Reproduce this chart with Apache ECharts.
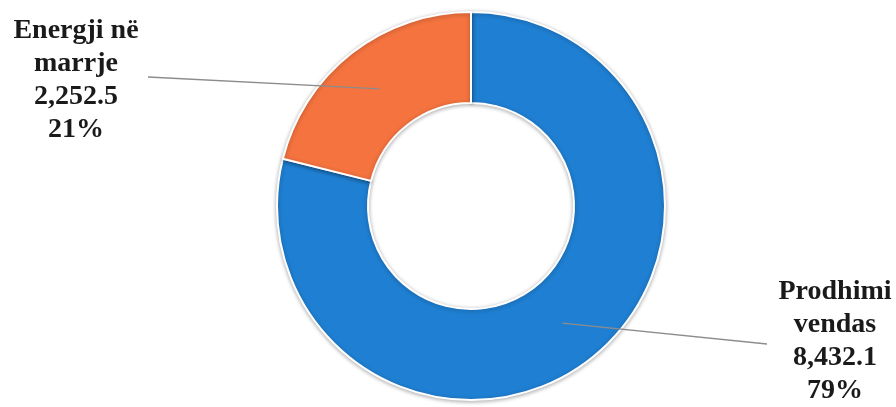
<!DOCTYPE html>
<html>
<head>
<meta charset="utf-8">
<script src="https://cdn.jsdelivr.net/npm/echarts@6/dist/echarts.min.js"></script>
<style>
  html, body { margin: 0; padding: 0; background: #fff; }
  #chart { width: 896px; height: 407px; }
</style>
</head>
<body>
<div id="chart"></div>
<script>
// data
const categories = ['Prodhimi\nvendas', 'Energji në\nmarrje']
const values = [8432.1, 2252.5]
const colors = ['#1f7fd2', '#f4733f']

// layout (pixels)
const center = [471, 206]
const radii = [103, 194]
const labelPos = [[835, 341], [76, 80]] // label block centres
const lineEnd = [[767, 344], [148, 77]] // where leader lines stop

const total = values.reduce((a, b) => a + b, 0)

const chart = echarts.init(document.getElementById('chart'))

function fmtValue (v) {
  return v.toLocaleString('en-US', { minimumFractionDigits: 1, maximumFractionDigits: 1 })
}

// mid-angle of each slice, starting at 12 o'clock, clockwise
function midAngle (idx) {
  let before = 0
  for (let i = 0; i < idx; i++) before += values[i]
  const mid = before + values[idx] / 2
  return Math.PI / 2 - (mid / total) * Math.PI * 2
}

// leader lines start mid-ring at each slice's middle angle and run out to the label
const leaders = values.map((v, i) => {
  const a = midAngle(i)
  const r = (radii[0] + radii[1]) / 2
  return {
    type: 'polyline',
    z: 100,
    silent: true,
    shape: { points: [[center[0] + Math.cos(a) * r, center[1] - Math.sin(a) * r], lineEnd[i]] },
    style: { stroke: '#8c8c8c', lineWidth: 1.3, fill: null }
  }
})

const option = {
  animation: false,
  graphic: leaders,
  series: [
    {
      type: 'pie',
      center: center,
      radius: radii,
      startAngle: 90,
      clockwise: true,
      data: categories.map((c, i) => ({
        name: c,
        value: values[i],
        itemStyle: { color: colors[i] }
      })),
      itemStyle: {
        borderColor: '#fff',
        borderWidth: 2,
        shadowBlur: 4,
        shadowColor: 'rgba(0,0,0,0.3)',
        shadowOffsetY: 1
      },
      label: {
        show: true,
        position: 'outside',
        fontFamily: 'Liberation Serif',
        fontWeight: 'bold',
        fontSize: 28,
        lineHeight: 33,
        color: '#1a1a1a',
        align: 'center',
        formatter: p => p.name + '\n' + fmtValue(p.value) + '\n' + Math.round(p.percent) + '%'
      },
      labelLine: { show: false },
      labelLayout: params => {
        const i = params.dataIndex
        return {
          x: labelPos[i][0],
          y: labelPos[i][1],
          align: 'center',
          verticalAlign: 'middle'
        }
      },
      emphasis: { disabled: true }
    }
  ]
}

chart.setOption(option)
</script>
</body>
</html>
